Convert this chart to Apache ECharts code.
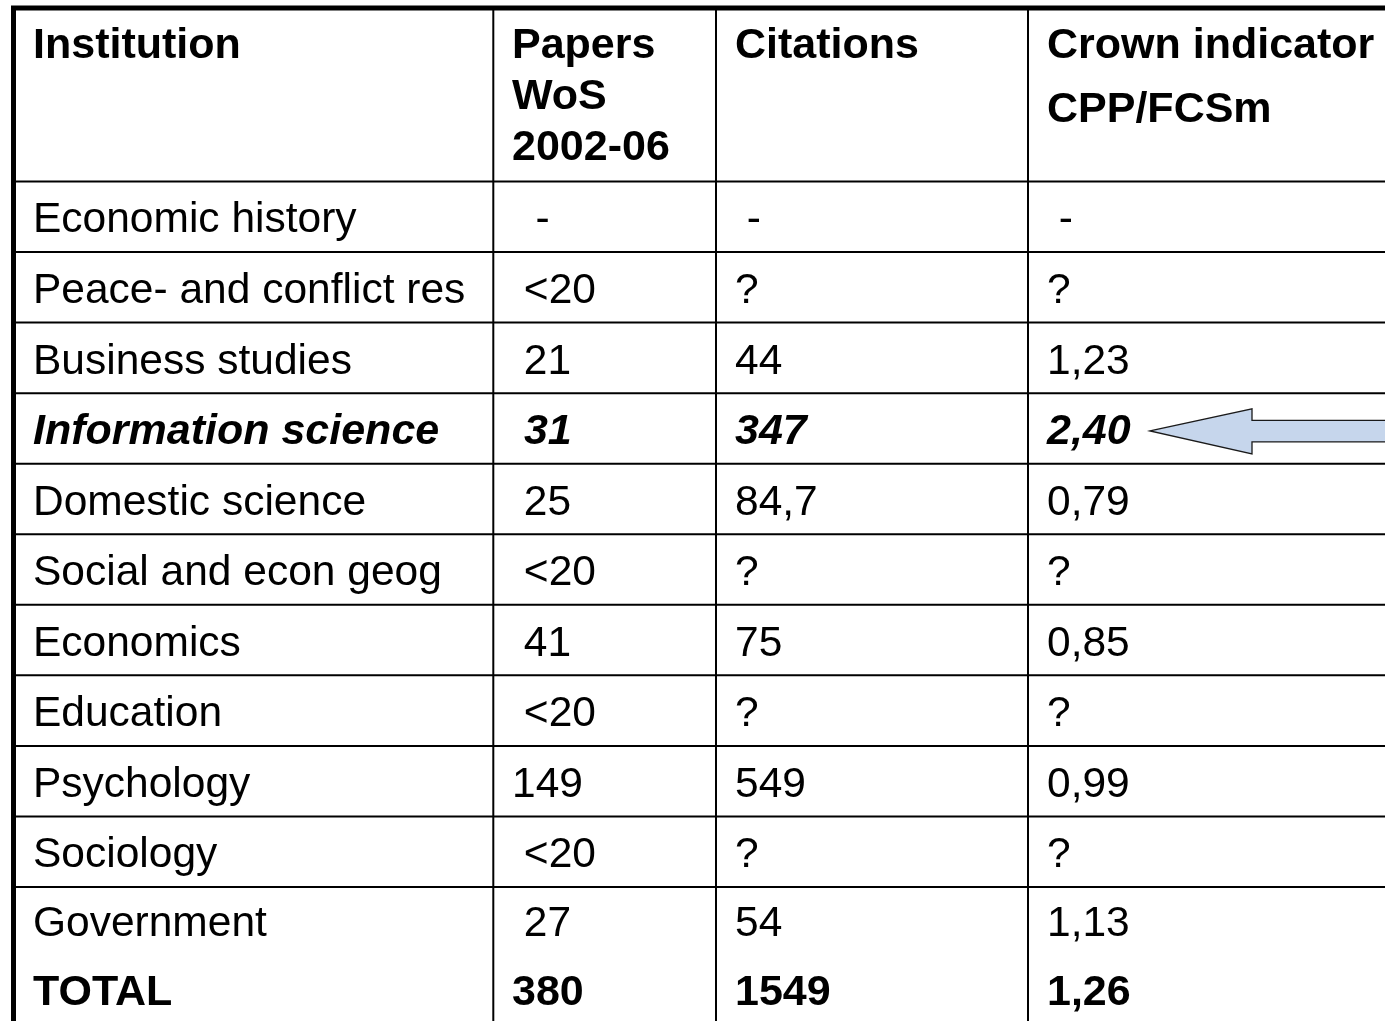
<!DOCTYPE html>
<html>
<head>
<meta charset="utf-8">
<script src="https://cdn.jsdelivr.net/npm/echarts@6/dist/echarts.min.js"></script>
<style>
html,body{margin:0;padding:0;background:#fff;}
#chart{width:1385px;height:1021px;}
</style>
</head>
<body>
<div id="chart"></div>
<script>
// ---- data ----
const headers = [['Institution'], ['Papers', 'WoS', '2002-06'], ['Citations'], ['Crown indicator', 'CPP/FCSm']];
const institutions = ['Economic history', 'Peace- and conflict res', 'Business studies', 'Information science', 'Domestic science', 'Social and econ geog', 'Economics', 'Education', 'Psychology', 'Sociology', 'Government', 'TOTAL'];
const papers = ['  -', ' <20', ' 21', ' 31', ' 25', ' <20', ' 41', ' <20', '149', ' <20', ' 27', '380'];
const citations = [' -', '?', '44', '347', '84,7', '?', '75', '?', '549', '?', '54', '1549'];
const crown = [' -', '?', '1,23', '2,40', '0,79', '?', '0,85', '?', '0,99', '?', '1,13', '1,26'];
const highlightRow = 3;   // Information science (italic bold + arrow)
const totalRow = 11;      // TOTAL (bold)

// ---- layout ----
const W = 1385, H = 1021;
const colLines = [13.5, 493.3, 716, 1028];
const colTextX = [33, 512, 735, 1047];
const topBorder = 8;
const headerBottom = 181.5;
const rowH = 70.55;
const headerLineGap = [0, 51, 0, 64];
const FONT = '"Liberation Sans", Arial, Helvetica, sans-serif';
const SIZE = 42.5;
const BOLD_SIZE = 43;

const columns = [institutions, papers, citations, crown];
// rows 0..9 each in own cell; Government & TOTAL share last cell
function rowCenter(r) {
  if (r < 10) return headerBottom + r * rowH + rowH / 2 + 4;
  return headerBottom + 10 * rowH + 37 + (r - 10) * 69;
}

const cellData = [];
columns.forEach((col, c) => col.forEach((v, r) => cellData.push([c, r, v])));
const headerData = [];
headers.forEach((lines, c) => lines.forEach((t, i) => headerData.push([c, i, t])));

const chart = echarts.init(document.getElementById('chart'), null, {renderer: 'canvas'});
chart.setOption({
  backgroundColor: '#ffffff',
  animation: false,
  grid: {left: 0, right: 0, top: 0, bottom: 0},
  xAxis: {type: 'value', min: 0, max: W, show: false},
  yAxis: {type: 'value', min: 0, max: H, inverse: true, show: false},
  series: [
    {
      // table frame
      type: 'custom',
      silent: true,
      clip: false,
      data: [[0]],
      renderItem: function (params, api) {
        const children = [];
        const p = (x, y) => api.coord([x, y]);
        let a = p(colLines[0] - 2.5, topBorder), b = p(W + 10, topBorder);
        children.push({type: 'line', shape: {x1: a[0], y1: a[1], x2: b[0], y2: b[1]}, style: {stroke: '#000', lineWidth: 5}});
        a = p(colLines[0], topBorder); b = p(colLines[0], H + 10);
        children.push({type: 'line', shape: {x1: a[0], y1: a[1], x2: b[0], y2: b[1]}, style: {stroke: '#000', lineWidth: 5}});
        for (let i = 1; i < colLines.length; i++) {
          a = p(colLines[i], topBorder); b = p(colLines[i], H + 10);
          children.push({type: 'line', shape: {x1: a[0], y1: a[1], x2: b[0], y2: b[1]}, style: {stroke: '#000', lineWidth: 2}});
        }
        for (let r = 0; r <= 10; r++) {
          const y = headerBottom + r * rowH;
          a = p(colLines[0], y); b = p(W + 10, y);
          children.push({type: 'line', shape: {x1: a[0], y1: a[1], x2: b[0], y2: b[1]}, style: {stroke: '#000', lineWidth: 2}});
        }
        return {type: 'group', children: children};
      }
    },
    {
      // header texts
      type: 'custom',
      silent: true,
      clip: false,
      data: headerData,
      renderItem: function (params, api) {
        const c = api.value(0), i = api.value(1);
        const t = headerData[params.dataIndex][2];
        const pt = api.coord([colTextX[c], 46 + i * headerLineGap[c]]);
        return {type: 'text', x: pt[0], y: pt[1],
          style: {text: t, fill: '#000', font: 'bold ' + BOLD_SIZE + 'px ' + FONT, align: 'left', verticalAlign: 'middle'}};
      }
    },
    {
      // body cells
      type: 'custom',
      silent: true,
      clip: false,
      data: cellData,
      renderItem: function (params, api) {
        const c = api.value(0), r = api.value(1);
        const t = cellData[params.dataIndex][2];
        let font = SIZE + 'px ' + FONT;
        if (r === highlightRow) font = 'italic bold ' + BOLD_SIZE + 'px ' + FONT;
        else if (r === totalRow) font = 'bold ' + BOLD_SIZE + 'px ' + FONT;
        const pt = api.coord([colTextX[c], rowCenter(r)]);
        return {type: 'text', x: pt[0], y: pt[1],
          style: {text: t, fill: '#000', font: font, align: 'left', verticalAlign: 'middle', whiteSpace: 'pre'}};
      }
    },
    {
      // arrow pointing at highlighted row
      type: 'custom',
      silent: true,
      clip: false,
      data: [[highlightRow]],
      renderItem: function (params, api) {
        const yc = rowCenter(api.value(0)) - 1.5;
        const tipX = 1150, headX = 1252, endX = W + 20;
        const pts = [
          [tipX, yc], [headX, yc - 22], [headX, yc - 10.5], [endX, yc - 10.5],
          [endX, yc + 11], [headX, yc + 11], [headX, yc + 23]
        ].map(q => api.coord(q));
        return {type: 'polygon', shape: {points: pts},
          style: {fill: '#c6d6ec', stroke: '#1a1a1a', lineWidth: 1.3}};
      }
    }
  ]
});
</script>
</body>
</html>
